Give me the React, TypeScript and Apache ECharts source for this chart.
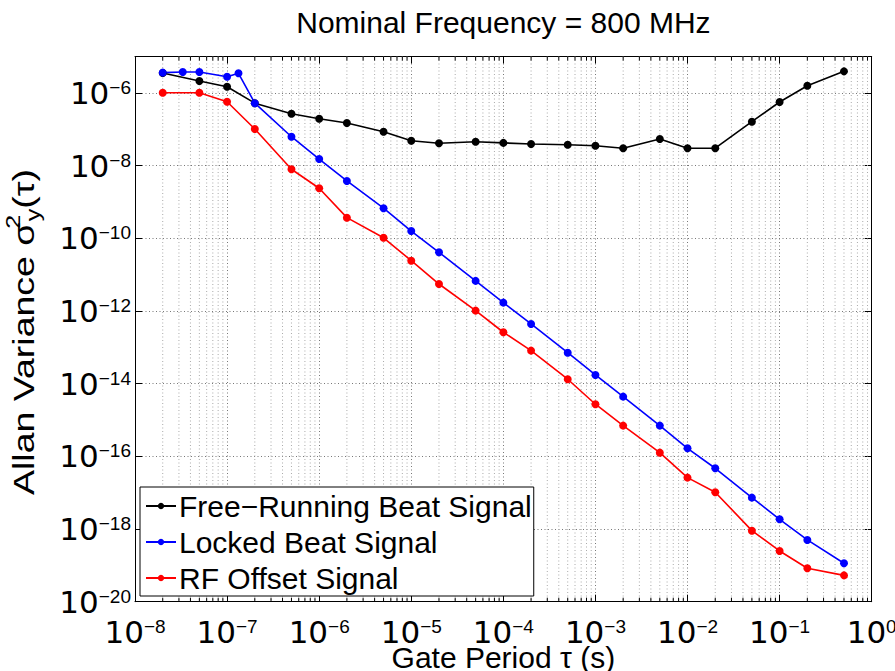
import { useEffect, useRef } from "react";
import * as echarts from "echarts";

// ---------- data ----------
const TITLE = "Nominal Frequency = 800 MHz";
const X_NAME = "Gate Period \u03c4 (s)";
const SERIES_NAMES = ["Free\u2212Running Beat Signal", "Locked Beat Signal", "RF Offset Signal"];
const SERIES_COLORS = ["#000000", "#0000ff", "#ff0000"];

// gate periods (s)
const tau = [
  2e-8, 5e-8, 1e-7, 2e-7, 5e-7, 1e-6, 2e-6, 5e-6, 1e-5, 2e-5, 5e-5, 1e-4,
  2e-4, 5e-4, 1e-3, 2e-3, 5e-3, 1e-2, 2e-2, 5e-2, 1e-1, 2e-1, 5e-1,
];
const tauLocked = [
  2e-8, 3.3e-8, 5e-8, 1e-7, 1.33e-7, 2e-7, 5e-7, 1e-6, 2e-6, 5e-6, 1e-5, 2e-5,
  5e-5, 1e-4, 2e-4, 5e-4, 1e-3, 2e-3, 5e-3, 1e-2, 2e-2, 5e-2, 1e-1, 2e-1, 5e-1,
];

const freeRunning = [
  3.5e-6, 2.12e-6, 1.47e-6, 5.2e-7, 2.67e-7, 1.94e-7, 1.48e-7, 8.5e-8, 4.8e-8,
  4.1e-8, 4.5e-8, 4.2e-8, 3.9e-8, 3.75e-8, 3.5e-8, 3.0e-8, 5.4e-8, 3.0e-8,
  3.0e-8, 1.61e-7, 5.6e-7, 1.57e-6, 3.9e-6,
];
const locked = [
  3.6e-6, 3.75e-6, 3.75e-6, 2.78e-6, 3.45e-6, 5.2e-7, 6.2e-8, 1.51e-8, 3.76e-9,
  6.7e-10, 1.58e-10, 4.1e-11, 6.7e-12, 1.69e-12, 4.38e-13, 7.1e-14, 1.73e-14,
  4.38e-15, 7.0e-16, 1.66e-16, 4.69e-17, 7.3e-18, 1.85e-18, 5.0e-19, 1.14e-19,
];
const rfOffset = [
  1.01e-6, 1.01e-6, 5.7e-7, 1.01e-7, 7.9e-9, 2.37e-9, 3.68e-10, 1.03e-10,
  2.41e-11, 5.5e-12, 1.02e-12, 2.59e-13, 8.1e-14, 1.32e-14, 2.71e-15, 7.0e-16,
  1.26e-16, 2.59e-17, 1.03e-17, 9.0e-19, 2.49e-19, 8.3e-20, 5.3e-20,
];

const X_MIN = 1e-8;
const X_MAX = 1;
const Y_MIN = 1e-20;
const Y_MAX = 1e-5;

// minor (2..9 x decade) grid positions of the x log axis
const MINOR_MULTIPLIERS = [2, 3, 4, 5, 6, 7, 8, 9];
const MINOR_DECADES = [-8, -7, -6, -5, -4, -3, -2, -1];

// ---------- styling ----------
const TEXT_FONT = "'Liberation Sans', Arial, Helvetica, sans-serif";
const NUM_FONT = "'DejaVu Sans', 'Liberation Sans', sans-serif";

const tickRich = {
  b: { fontFamily: NUM_FONT, fontSize: 31, lineHeight: 30, color: "#000", verticalAlign: "middle" },
  s: { fontFamily: TEXT_FONT, fontSize: 19, lineHeight: 8, color: "#000", verticalAlign: "top" },
};

const expLabel = (step: number) => (v: number) => {
  const e = Math.round(Math.log10(v));
  if (e % step !== 0) return "";
  const s = e < 0 ? "\u2212" + Math.abs(e) : String(e);
  return `{b|10}{s|${s}}`;
};

function buildOption() {
  const minorPos: number[][] = [];
  MINOR_DECADES.forEach((d) =>
    MINOR_MULTIPLIERS.forEach((m) => minorPos.push([m * Math.pow(10, d), 1e-12]))
  );

  const lineSeries = [
    { name: SERIES_NAMES[0], x: tau, y: freeRunning, color: SERIES_COLORS[0] },
    { name: SERIES_NAMES[1], x: tauLocked, y: locked, color: SERIES_COLORS[1] },
    { name: SERIES_NAMES[2], x: tau, y: rfOffset, color: SERIES_COLORS[2] },
  ].map((s) => ({
    type: "line",
    name: s.name,
    xAxisIndex: 0,
    yAxisIndex: 0,
    data: s.x.map((t, i) => [t, s.y[i]]),
    symbol: "circle",
    symbolSize: 8,
    showSymbol: true,
    lineStyle: { color: s.color, width: 1.6 },
    itemStyle: { color: s.color },
    z: 5,
    emphasis: { disabled: true },
  }));

  const axisCommonX = {
    type: "log",
    logBase: 10,
    min: X_MIN,
    max: X_MAX,
    interval: 1,
  };
  const axisCommonY = {
    type: "log",
    logBase: 10,
    min: Y_MIN,
    max: Y_MAX,
    interval: 2,
  };
  const frameLine = { show: true, onZero: false, lineStyle: { color: "#000", width: 1 } };
  const majorGrid = { show: true, lineStyle: { color: "#777", width: 1, type: [1, 2.5] } };

  return {
    animation: false,
    backgroundColor: "#fff",
    grid: {
      left: 135,
      right: 23.3,
      top: 56.5,
      bottom: 69.3,
      containLabel: false,
      outerBoundsMode: "none",
    },
    graphic: [
      {
        type: "text",
        x: 503.4,
        y: 22,
        style: {
          text: TITLE,
          align: "center",
          verticalAlign: "middle",
          fontFamily: TEXT_FONT,
          fontSize: 30,
          fill: "#000",
        },
      },
      {
        type: "text",
        x: 23,
        y: 332,
        rotation: Math.PI / 2,
        scaleX: 1.25,
        style: {
          text: "{n|Allan Variance \u03c3}{sup|2}{sub|y}{n|(\u03c4)}",
          align: "center",
          verticalAlign: "middle",
          rich: {
            n: { fontFamily: TEXT_FONT, fontSize: 30, lineHeight: 40, fill: "#000", verticalAlign: "middle" },
            sup: { fontFamily: TEXT_FONT, fontSize: 20, lineHeight: 20, fill: "#000", verticalAlign: "top", width: 1 },
            sub: { fontFamily: TEXT_FONT, fontSize: 20, lineHeight: 14, fill: "#000", verticalAlign: "bottom" },
          },
        },
      },
    ],
    legend: {
      show: true,
      data: SERIES_NAMES,
      orient: "vertical",
      left: 140,
      top: 487,
      padding: [1, 2, 0, 5],
      itemGap: 0,
      itemWidth: 30,
      itemHeight: 8,
      selectedMode: false,
      backgroundColor: "#fff",
      borderColor: "#000",
      borderWidth: 1,
      borderRadius: 0,
      textStyle: { fontFamily: TEXT_FONT, fontSize: 30, lineHeight: 36, color: "#000", padding: [0, 0, 0, -2] },
    },
    xAxis: [
      {
        ...axisCommonX,
        position: "bottom",
        name: X_NAME,
        nameLocation: "middle",
        nameGap: 45,
        nameMoveOverlap: false,
        nameTextStyle: { fontFamily: TEXT_FONT, fontSize: 30, lineHeight: 22, color: "#000" },
        axisLine: frameLine,
        axisTick: { show: true, inside: true, length: 7, lineStyle: { color: "#000" } },
        axisLabel: { show: true, margin: 15, formatter: expLabel(1), rich: tickRich, hideOverlap: false },
        splitLine: majorGrid,
      },
      {
        ...axisCommonX,
        position: "top",
        axisLine: frameLine,
        axisTick: { show: true, inside: true, length: 7, lineStyle: { color: "#000" } },
        axisLabel: { show: false },
        splitLine: { show: false },
      },
    ],
    yAxis: [
      {
        ...axisCommonY,
        position: "left",
        axisLine: frameLine,
        axisTick: { show: true, inside: true, length: 7, lineStyle: { color: "#000" } },
        axisLabel: { show: true, margin: 4, formatter: expLabel(2), rich: tickRich, hideOverlap: false },
        splitLine: majorGrid,
      },
      {
        ...axisCommonY,
        position: "right",
        axisLine: frameLine,
        axisTick: { show: true, inside: true, length: 7, lineStyle: { color: "#000" } },
        axisLabel: { show: false },
        splitLine: { show: false },
      },
    ],
    series: [
      {
        type: "custom",
        name: "minorGrid",
        xAxisIndex: 0,
        yAxisIndex: 0,
        silent: true,
        z: 1,
        data: minorPos,
        renderItem: (params: any, api: any) => {
          const x = api.coord([api.value(0), api.value(1)])[0];
          const cs = params.coordSys;
          const top = cs.y;
          const bottom = cs.y + cs.height;
          return {
            type: "group",
            children: [
              {
                type: "line",
                shape: { x1: x, y1: top, x2: x, y2: bottom },
                style: { stroke: "#aaa", lineWidth: 1, lineDash: [1, 2.5] },
              },
              {
                type: "line",
                shape: { x1: x, y1: bottom, x2: x, y2: bottom - 4 },
                style: { stroke: "#000", lineWidth: 1 },
              },
              {
                type: "line",
                shape: { x1: x, y1: top, x2: x, y2: top + 4 },
                style: { stroke: "#000", lineWidth: 1 },
              },
            ],
          };
        },
      },
      ...lineSeries,
    ],
  };
}

export default function App() {
  const ref = useRef<HTMLDivElement>(null);
  useEffect(() => {
    if (!ref.current) return;
    const chart = echarts.init(ref.current, null, { renderer: "svg" });
    chart.setOption(buildOption() as any);
    return () => chart.dispose();
  }, []);
  return (
    <div
      ref={ref}
      style={{ position: "fixed", left: 0, top: 0, width: 895, height: 671, background: "#fff" }}
    />
  );
}
